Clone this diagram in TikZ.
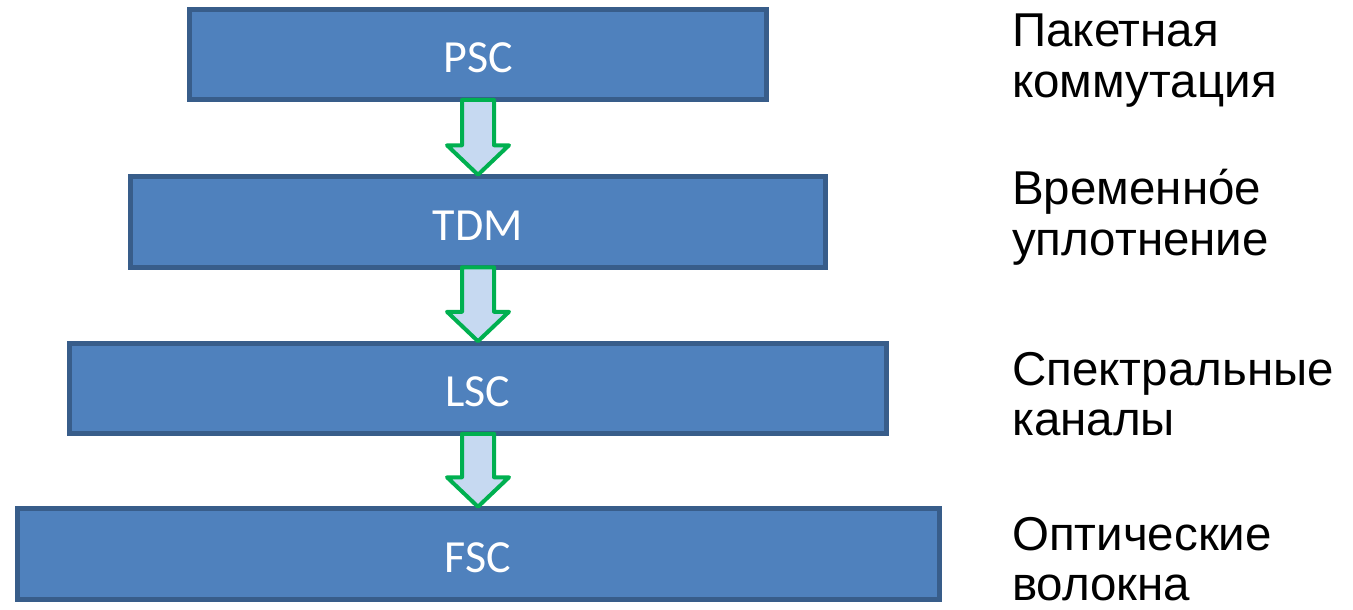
\documentclass[tikz,border=0pt]{standalone}
\usepackage{fontspec}
\setmainfont{Liberation Sans}
\newfontfamily\boxfont{Carlito}
\usetikzlibrary{calc}
\definecolor{boxfill}{HTML}{4F81BD}
\definecolor{boxline}{HTML}{385D8A}
\definecolor{arrfill}{HTML}{C6D9F1}
\definecolor{arrline}{HTML}{00B050}
\begin{document}
\begin{tikzpicture}[x=1pt,y=-1pt,
  layerbox/.style={draw=boxline, fill=boxfill, line width=5pt, outer sep=0pt,
    inner sep=0pt, minimum height=90.5pt, text=white,
    font=\boxfont\fontsize{46}{50}\selectfont, text height=36.5pt, text depth=0pt},
  lab/.style={anchor=base west, inner sep=0pt, text=black,
    font=\fontsize{47.5}{50}\selectfont},
  blockarrow/.style={draw=arrline, fill=arrfill, line width=4pt, line join=round}]
\useasboundingbox (0,0) rectangle (1353,610);

\node[layerbox, minimum width=577pt] (psc) at (478,54.75) {PSC};
\node[layerbox, minimum width=695pt] (tdm) at (478,222) {TDM};
\node[layerbox, minimum width=817pt] (lsc) at (478,388.5) {LSC};
\node[layerbox, minimum width=922pt] (fsc) at (478,554) {FSC};

\foreach \a/\b in {psc/tdm, tdm/lsc, lsc/fsc}{
  \draw[blockarrow] let \p1=(\a.south), \p2=(\b.north) in
    (\x1-16pt,\y1) -- (\x1+16pt,\y1) -- (\x1+16pt,\y2+31.5pt) -- (\x1+31pt,\y2+31.5pt)
    -- (\x1,\y2+2pt) -- (\x1-31pt,\y2+31.5pt) -- (\x1-16pt,\y2+31.5pt) -- cycle;
}

\node[lab] (l1a) at (1012,47) {Пакетная};
\node[lab] (l1b) at (1012,97) {коммутация};
\node[lab] (l2a) at (1012,204) {Временно́е};
\node[lab] (l2b) at (1012,255) {уплотнение};
\node[lab] (l3a) at (1012,385) {Спектральные};
\node[lab] (l3b) at (1012,435) {каналы};
\node[lab] (l4a) at (1012,550) {Оптические};
\node[lab] (l4b) at (1012,600) {волокна};
\end{tikzpicture}
\end{document}
